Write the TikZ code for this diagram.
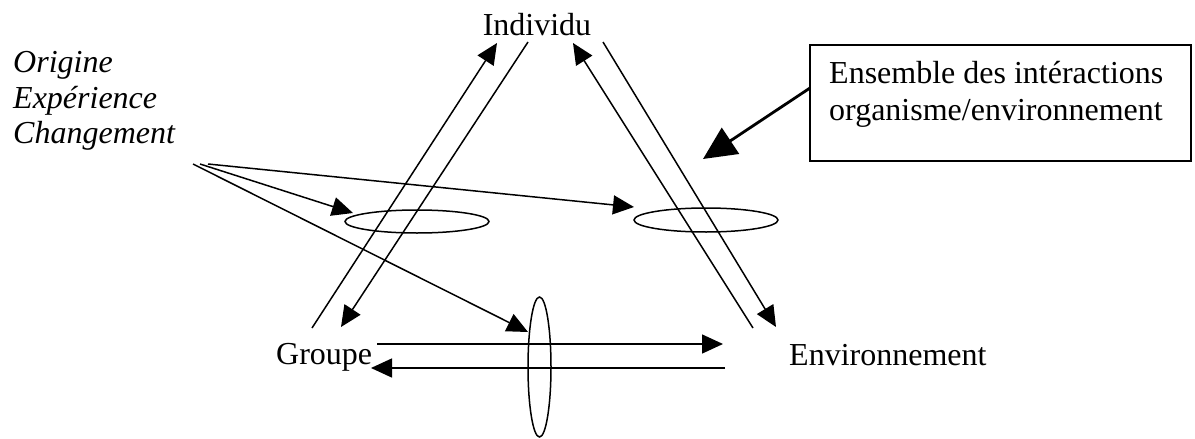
\documentclass[tikz,border=0pt]{standalone}
\usepackage{fontspec}
\setmainfont{Liberation Serif}
\usetikzlibrary{arrows.meta,shapes.geometric}
\begin{document}
\begin{tikzpicture}[x=1pt,y=-1pt,
  lbl/.style={inner sep=0pt,font=\fontsize{32}{36}\selectfont},
  conn/.style={line width=1.5pt,-{Triangle[length=21pt,width=19pt]}},
  ring/.style={line width=1.5pt},
  bigarrow/.style={line width=2.8pt,-{Triangle[length=33pt,width=31pt]}}]
\useasboundingbox (0,0) rectangle (1195,439);
% texts
\node[lbl,anchor=base] (ind) at (537,35) {Individu};
\node[lbl,anchor=base west] (grp) at (276,364) {Groupe};
\node[lbl,anchor=base west] (env) at (789,365) {Environnement};
\node[lbl,anchor=base west] (o1) at (13,72) {\itshape Origine};
\node[lbl,anchor=base west] (o2) at (13,108) {\itshape Expérience};
\node[lbl,anchor=base west] (o3) at (13,143) {\itshape Changement};
\node[draw,line width=1.5pt,anchor=north west,minimum width=381pt,minimum height=116pt,inner sep=0pt] (box) at (809,44) {};
\node[lbl,anchor=base west] (b1) at (829,83) {Ensemble des intéractions};
\node[lbl,anchor=base west] (b2) at (829,120) {organisme/environnement};
% ellipses
\node[draw,ring,ellipse,minimum width=144pt,minimum height=23pt,inner sep=0pt] (e1) at (417,221.5) {};
\node[draw,ring,ellipse,minimum width=144pt,minimum height=24pt,inner sep=0pt] (e2) at (706,220) {};
\node[draw,ring,ellipse,minimum width=23pt,minimum height=140pt,inner sep=0pt] (e3) at (539.5,367) {};
% coordinates
\coordinate (iA) at (528,42);  \coordinate (gA) at (341,327);
\coordinate (gB) at (312,328); \coordinate (iB) at (497,43);
\coordinate (eA) at (753,328); \coordinate (iC) at (573,43);
\coordinate (iD) at (603,42);  \coordinate (eD) at (776,327);
\coordinate (gE) at (377,344); \coordinate (eE) at (723,344);
\coordinate (eF) at (725,368); \coordinate (gF) at (371,368);
\coordinate (c1) at (208,164); \coordinate (t1) at (634,207);
\coordinate (c2) at (200,164); \coordinate (t2) at (353,213);
\coordinate (c3) at (193,164); \coordinate (t3) at (528,332);
\coordinate (bx) at (810,88);  \coordinate (tb) at (703,159);
% connectors
\draw[conn] (iA) -- (gA);
\draw[conn] (gB) -- (iB);
\draw[conn] (eA) -- (iC);
\draw[conn] (iD) -- (eD);
\draw[conn] (gE) -- (eE);
\draw[conn] (eF) -- (gF);
\draw[conn] (c1) -- (t1);
\draw[conn] (c2) -- (t2);
\draw[conn] (c3) -- (t3);
\draw[bigarrow] (bx) -- (tb);
\end{tikzpicture}
\end{document}
